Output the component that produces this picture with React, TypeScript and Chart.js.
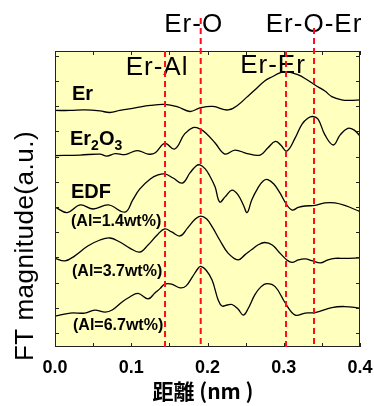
import React, { useEffect, useRef } from "react";
import { Chart, registerables } from "chart.js";

Chart.register(...registerables);

// ---- data (distance in nm, FT magnitude in arbitrary offset units) ----
const erX = [0.0, 0.02, 0.039, 0.059, 0.072, 0.085, 0.105, 0.125, 0.144, 0.161, 0.177, 0.19, 0.207, 0.227, 0.24, 0.252, 0.262, 0.275, 0.285, 0.295, 0.304, 0.319, 0.329, 0.341, 0.354, 0.363, 0.376, 0.387, 0.4];
const erY = [8.83, 8.83, 8.85, 8.81, 8.75, 8.83, 8.93, 9.03, 9.07, 8.97, 8.79, 8.93, 8.99, 8.85, 9.05, 9.37, 9.64, 10.0, 10.17, 10.32, 10.37, 10.24, 10.08, 9.84, 9.6, 9.38, 9.25, 9.23, 9.25];

const er2o3X = [0.0, 0.033, 0.059, 0.068, 0.079, 0.092, 0.108, 0.122, 0.131, 0.144, 0.157, 0.17, 0.181, 0.19, 0.199, 0.21, 0.223, 0.236, 0.252, 0.269, 0.279, 0.289, 0.296, 0.304, 0.315, 0.324, 0.332, 0.338, 0.345, 0.354, 0.365, 0.374, 0.384, 0.392, 0.4];
const er2o3Y = [7.04, 7.06, 7.1, 7.02, 7.12, 7.08, 7.24, 7.1, 7.14, 7.52, 7.3, 7.9, 8.15, 8.1, 7.9, 7.54, 7.1, 7.26, 7.12, 7.06, 7.34, 7.6, 7.46, 7.22, 7.74, 8.29, 8.53, 8.59, 8.49, 7.86, 7.46, 7.86, 8.12, 8.06, 7.82];

const al14X = [0.0, 0.016, 0.033, 0.05, 0.07, 0.092, 0.102, 0.111, 0.125, 0.135, 0.144, 0.155, 0.167, 0.177, 0.185, 0.19, 0.197, 0.203, 0.21, 0.216, 0.223, 0.232, 0.24, 0.247, 0.252, 0.258, 0.266, 0.273, 0.279, 0.287, 0.295, 0.304, 0.311, 0.319, 0.328, 0.341, 0.354, 0.367, 0.38, 0.4];
const al14Y = [5.0, 4.78, 5.08, 4.92, 5.08, 4.8, 5.28, 5.71, 6.11, 6.27, 6.31, 6.15, 5.95, 6.35, 6.63, 6.67, 6.51, 6.23, 5.79, 5.2, 5.4, 5.67, 5.48, 5.08, 4.78, 5.28, 5.75, 6.03, 6.09, 5.91, 5.56, 5.08, 4.88, 4.98, 5.04, 5.06, 5.16, 5.16, 5.06, 4.82];

const al37X = [0.0, 0.013, 0.026, 0.043, 0.059, 0.072, 0.085, 0.098, 0.111, 0.122, 0.134, 0.144, 0.153, 0.164, 0.174, 0.184, 0.191, 0.199, 0.207, 0.216, 0.227, 0.24, 0.249, 0.258, 0.266, 0.275, 0.285, 0.295, 0.304, 0.311, 0.319, 0.328, 0.338, 0.348, 0.358, 0.367, 0.38, 0.4];
const al37Y = [2.96, 2.86, 3.06, 3.45, 3.69, 3.77, 3.61, 3.37, 3.21, 3.49, 3.89, 4.13, 4.01, 3.85, 4.17, 4.52, 4.64, 4.52, 4.17, 3.69, 3.17, 2.9, 3.1, 3.31, 3.49, 3.59, 3.49, 3.17, 2.9, 2.8, 2.9, 2.94, 2.86, 2.78, 2.9, 2.96, 2.96, 2.98];

const al67X = [0.0, 0.02, 0.039, 0.052, 0.066, 0.075, 0.088, 0.098, 0.109, 0.122, 0.131, 0.138, 0.144, 0.153, 0.164, 0.172, 0.18, 0.188, 0.191, 0.198, 0.206, 0.214, 0.219, 0.226, 0.232, 0.24, 0.247, 0.253, 0.262, 0.27, 0.278, 0.289, 0.302, 0.315, 0.328, 0.341, 0.363, 0.38, 0.4];
const al67Y = [0.67, 0.79, 0.79, 0.91, 0.83, 0.91, 1.23, 1.43, 1.57, 1.35, 1.59, 1.77, 1.94, 1.94, 1.79, 1.87, 2.22, 2.58, 2.64, 2.5, 2.1, 1.31, 1.07, 1.11, 1.13, 0.95, 0.71, 0.95, 1.51, 1.83, 1.96, 1.83, 1.19, 0.71, 0.79, 0.81, 1.01, 1.05, 0.99];

const markerX = [0.1443, 0.1911, 0.303, 0.3397];
const markerLabels = ["Er-Al", "Er-O", "Er-Er", "Er-O-Er"];
const seriesLabels = ["Er", "Er2O3", "EDF", "(Al=1.4wt%)", "(Al=3.7wt%)", "(Al=6.7wt%)"];
const xMinorTicks = [0, 0.05, 0.1, 0.15, 0.2, 0.25, 0.3, 0.35, 0.4];
const yTicks = [0, 1, 2, 3, 4, 5, 6, 7, 8, 9, 10, 11];
const xTitle = "距離 (nm )";
const yTitle = "FT magnitude(a.u.)";

const SANS = "'Liberation Sans', Arial, Helvetica, sans-serif";
const CJK = "'Noto Sans CJK JP', 'Noto Sans CJK SC', sans-serif";

// style / placement for overlay text and lines (pixels)
const markerLineTop = [0, -33, 0, -23];
const markerLabelDx = [-8, -7, -13, 0];
const markerLabelBaseline = [75, 32, 73, 32];
const seriesLabelPos = [
  { x: 72, y: 100, font: "bold 20px " + SANS },
  { x: 70, y: 145, font: "bold 20px " + SANS },
  { x: 71, y: 198, font: "bold 20px " + SANS },
  { x: 71, y: 226, font: "bold 16px " + SANS },
  { x: 72, y: 276, font: "bold 16px " + SANS },
  { x: 73, y: 330, font: "bold 16px " + SANS },
];

function drawSub(ctx: CanvasRenderingContext2D, text: string, x: number, y: number) {
  let cx = x;
  for (const ch of text) {
    if (/[0-9]/.test(ch)) {
      ctx.font = "bold 14px " + SANS;
      ctx.fillText(ch, cx, y + 5);
      cx += ctx.measureText(ch).width;
    } else {
      ctx.font = "bold 20px " + SANS;
      ctx.fillText(ch, cx, y);
      cx += ctx.measureText(ch).width;
    }
  }
}

const overlayPlugin = {
  id: "overlay",
  beforeDatasetsDraw(chart: any) {
    const { ctx, chartArea: a } = chart;
    ctx.save();
    ctx.fillStyle = "#FFFFBE";
    ctx.fillRect(a.left, a.top, a.right - a.left, a.bottom - a.top);
    ctx.restore();
  },
  afterDatasetsDraw(chart: any) {
    const { ctx, chartArea: a, scales } = chart;
    const xs = scales.x;
    const ys = scales.y;
    ctx.save();

    ctx.fillStyle = "#000";
    ctx.textAlign = "left";
    ctx.textBaseline = "alphabetic";
    seriesLabels.forEach((t, i) => {
      const p = seriesLabelPos[i];
      if (t === "Er2O3") {
        drawSub(ctx, t, p.x, p.y);
      } else {
        ctx.font = p.font;
        ctx.fillText(t, p.x, p.y);
      }
    });

    ctx.font = "26px " + SANS;
    (ctx as any).letterSpacing = "1px";
    ctx.textAlign = "center";
    markerLabels.forEach((t, i) => {
      const px = xs.getPixelForValue(markerX[i]);
      ctx.fillText(t, px + markerLabelDx[i], markerLabelBaseline[i]);
    });
    (ctx as any).letterSpacing = "0px";

    ctx.strokeStyle = "#222";
    ctx.lineWidth = 1;
    ctx.strokeRect(a.left + 0.5, a.top + 0.5, a.right - a.left - 1, a.bottom - a.top - 1);

    ctx.beginPath();
    xMinorTicks.forEach((v) => {
      const px = Math.round(xs.getPixelForValue(v)) + 0.5;
      ctx.moveTo(px, a.bottom);
      ctx.lineTo(px, a.bottom - 4);
      ctx.moveTo(px, a.top);
      ctx.lineTo(px, a.top + 4);
    });
    yTicks.forEach((v) => {
      const py = Math.round(ys.getPixelForValue(v)) + 0.5;
      ctx.moveTo(a.left, py);
      ctx.lineTo(a.left + 4, py);
      ctx.moveTo(a.right, py);
      ctx.lineTo(a.right - 4, py);
    });
    ctx.stroke();

    ctx.strokeStyle = "#FF0A1E";
    ctx.lineWidth = 2;
    ctx.setLineDash([6, 4]);
    markerX.forEach((v, i) => {
      const px = xs.getPixelForValue(v);
      ctx.beginPath();
      ctx.moveTo(px, a.top + markerLineTop[i]);
      ctx.lineTo(px, a.bottom);
      ctx.stroke();
    });
    ctx.setLineDash([]);

    ctx.fillStyle = "#000";
    ctx.font = "bold 21px " + CJK;
    ctx.textAlign = "center";
    ctx.textBaseline = "middle";
    ctx.fillText(xTitle, 203, 391);

    ctx.translate(33, 246);
    ctx.rotate(-Math.PI / 2);
    ctx.font = "26px " + SANS;
    ctx.textBaseline = "alphabetic";
    (ctx as any).letterSpacing = "0.5px";
    ctx.fillText(yTitle, 0, 0);
    (ctx as any).letterSpacing = "0px";
    ctx.restore();
  },
};

export default function App() {
  const ref = useRef<HTMLCanvasElement | null>(null);
  useEffect(() => {
    if (!ref.current) return;
    const series = [
      [erX, erY],
      [er2o3X, er2o3Y],
      [al14X, al14Y],
      [al37X, al37Y],
      [al67X, al67Y],
    ];
    const chart = new Chart(ref.current, {
      type: "line",
      data: {
        datasets: series.map(([xs, ys]) => ({
          data: xs.map((x, i) => ({ x, y: ys[i] })),
          borderColor: "#000",
          borderWidth: 1.3,
          pointRadius: 0,
          tension: 0.4,
          fill: false,
        })),
      },
      options: {
        animation: false,
        responsive: true,
        maintainAspectRatio: false,
        layout: { padding: { top: 51, right: 14, left: 0, bottom: 0 } },
        plugins: { legend: { display: false }, tooltip: { enabled: false } },
        scales: {
          x: {
            type: "linear",
            min: 0,
            max: 0.4,
            grid: { display: false, drawTicks: false },
            border: { display: false },
            ticks: {
              stepSize: 0.1,
              autoSkip: false,
              maxRotation: 0,
              color: "#000",
              padding: 10,
              font: { family: SANS, size: 18, weight: "bold" },
              callback: (v: any) => Number(v).toFixed(1),
            },
            afterFit: (s: any) => {
              s.height = 59;
              s.paddingLeft = 0;
              s.paddingRight = 0;
            },
          },
          y: {
            type: "linear",
            min: -0.556,
            max: 11.19,
            grid: { display: false, drawTicks: false },
            border: { display: false },
            ticks: { display: false },
            afterFit: (s: any) => {
              s.width = 55;
              s.paddingTop = 0;
              s.paddingBottom = 0;
            },
          },
        },
      } as any,
      plugins: [overlayPlugin],
    });
    return () => chart.destroy();
  }, []);
  return (
    <div style={{ position: "fixed", left: 0, top: 0, width: 374, height: 406, background: "#fff" }}>
      <canvas ref={ref} />
    </div>
  );
}
